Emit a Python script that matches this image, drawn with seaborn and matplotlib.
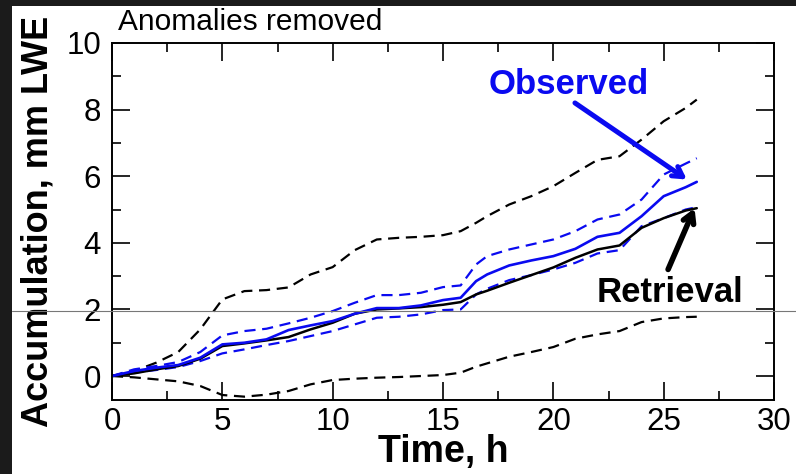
import numpy as np
import pandas as pd
import matplotlib
matplotlib.use("Agg")
import matplotlib.pyplot as plt
import seaborn as sns
from matplotlib.lines import Line2D
from matplotlib.patches import Rectangle
from matplotlib.ticker import MultipleLocator

# Time axis (hours) shared by all series
hours = [0, 1, 2, 3, 4, 5, 6, 7, 8, 9, 10, 11, 12, 13, 14, 15, 15.8, 16.5,
         17, 18, 19, 20, 21, 22, 23, 24, 25, 26, 26.5]

# Accumulated liquid water equivalent, mm
observed = [0, 0.15, 0.25, 0.33, 0.55, 0.95, 1.0, 1.1, 1.38, 1.52, 1.65, 1.87,
            2.04, 2.04, 2.12, 2.28, 2.35, 2.85, 3.05, 3.32, 3.47, 3.6, 3.82,
            4.18, 4.3, 4.8, 5.4, 5.67, 5.83]
observed_hi = [0, 0.2, 0.3, 0.42, 0.72, 1.22, 1.35, 1.42, 1.58, 1.75, 1.95, 2.2,
               2.43, 2.43, 2.5, 2.67, 2.72, 3.35, 3.6, 3.8, 3.95, 4.1, 4.35,
               4.7, 4.85, 5.3, 6.05, 6.38, 6.54]
observed_lo = [0, 0.1, 0.18, 0.27, 0.45, 0.68, 0.8, 0.93, 1.05, 1.2, 1.35, 1.55,
               1.75, 1.78, 1.85, 1.98, 2.0, 2.45, 2.62, 2.88, 3.03, 3.2, 3.4,
               3.68, 3.78, 4.5, 4.74, 5.0, 5.07]
retrieval = [0, 0.08, 0.2, 0.3, 0.52, 0.9, 0.98, 1.07, 1.17, 1.4, 1.6, 1.87,
             2.0, 2.03, 2.07, 2.14, 2.22, 2.45, 2.56, 2.8, 3.03, 3.26, 3.55,
             3.8, 3.92, 4.45, 4.74, 4.97, 5.04]
retrieval_hi = [0, 0.15, 0.4, 0.72, 1.4, 2.3, 2.55, 2.58, 2.66, 3.05, 3.27, 3.78,
                4.1, 4.15, 4.18, 4.23, 4.35, 4.6, 4.8, 5.15, 5.4, 5.7, 6.1,
                6.49, 6.6, 7.1, 7.65, 8.05, 8.3]
retrieval_lo = [0, -0.04, -0.1, -0.16, -0.3, -0.57, -0.62, -0.56, -0.45, -0.25,
                -0.12, -0.08, -0.05, -0.03, 0, 0.03, 0.1, 0.28, 0.38, 0.58, 0.72,
                0.87, 1.12, 1.25, 1.35, 1.62, 1.73, 1.77, 1.78]

BLUE = "#0a0af0"

sns.set_style("ticks")
plt.rcParams["font.family"] = ["Liberation Sans", "DejaVu Sans"]
plt.rcParams["text.color"] = "black"
plt.rcParams["axes.labelcolor"] = "black"
plt.rcParams["xtick.color"] = "black"
plt.rcParams["ytick.color"] = "black"

fig = plt.figure(figsize=(7.96, 4.74), dpi=100)
fig.patch.set_facecolor("white")
ax = fig.add_axes([112 / 796, 1 - 400 / 474, (774 - 112) / 796, (400 - 43) / 474])

series = [
    (retrieval_hi, "black", (5, 3), 1.6),
    (retrieval_lo, "black", (5, 3), 1.6),
    (observed_hi, BLUE, (5, 3), 1.6),
    (observed_lo, BLUE, (5, 3), 1.6),
    (retrieval, "black", None, 1.8),
    (observed, BLUE, None, 1.9),
]
for values, color, dash, lw in series:
    df = pd.DataFrame({"time": hours, "acc": values})
    line_ax = sns.lineplot(data=df, x="time", y="acc", ax=ax, color=color, lw=lw)
    if dash is not None:
        line_ax.lines[-1].set_dashes(dash)

ax.set_xlim(0, 30)
ax.set_ylim(-0.72, 10)
ax.xaxis.set_major_locator(MultipleLocator(5))
ax.xaxis.set_minor_locator(MultipleLocator(2.5))
ax.yaxis.set_major_locator(MultipleLocator(2))
ax.yaxis.set_minor_locator(MultipleLocator(1))
ax.tick_params(which="both", direction="in", top=True, right=True, width=1.2,
               colors="black", labelsize=22.5)
ax.tick_params(which="major", length=13)
ax.tick_params(which="minor", length=6.5)
ax.tick_params(axis="y", which="major", pad=8)
ax.tick_params(axis="x", which="major", pad=5)
for sp in ax.spines.values():
    sp.set_linewidth(1.4)
    sp.set_color("black")

ax.set_xlabel("Time, h", fontsize=27, fontweight="bold", labelpad=-2)
ax.set_ylabel("Accumulation, mm LWE", fontsize=26, fontweight="bold")
ax.yaxis.set_label_coords(-0.085, 0.5)

fig.text(118 / 796, 1 - 30 / 474, "Anomalies removed", fontsize=21.5,
         ha="left", va="baseline")

ax.text(17.08, 8.47, "Observed", color=BLUE, fontsize=25, fontweight="bold",
        ha="left", va="baseline")
ax.annotate("", xy=(26.05, 5.9), xytext=(20.98, 8.2),
            arrowprops=dict(arrowstyle="->, head_length=0.7, head_width=0.4",
                            color=BLUE, lw=3.6, shrinkA=0, shrinkB=0))
ax.text(21.98, 2.22, "Retrieval", color="black", fontsize=25, fontweight="bold",
        ha="left", va="baseline")
ax.annotate("", xy=(26.4, 5.04), xytext=(25.2, 3.2),
            arrowprops=dict(arrowstyle="->, head_length=0.7, head_width=0.4",
                            color="black", lw=4, shrinkA=0, shrinkB=0))

# dark frame along the top and left edges
fig.add_artist(Rectangle((0, 1 - 6 / 474), 1, 6 / 474, transform=fig.transFigure,
                         facecolor="#1b1b1b", edgecolor="none", zorder=10))
fig.add_artist(Rectangle((0, 0), 12 / 796, 1, transform=fig.transFigure,
                         facecolor="#1b1b1b", edgecolor="none", zorder=10))
# thin horizontal rule across the figure
fig.add_artist(Line2D([12 / 796, 1], [1 - 311 / 474] * 2, transform=fig.transFigure,
                      color="#777777", lw=0.8, zorder=11))

fig.savefig("out.png", dpi=100)
